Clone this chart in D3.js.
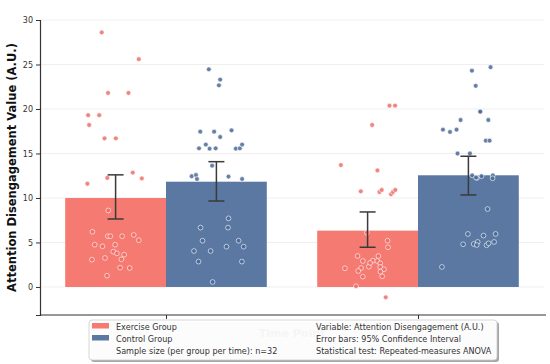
<!DOCTYPE html>
<html>
<head>
<meta charset="utf-8">
<script src="https://cdn.jsdelivr.net/npm/d3@7"></script>
<style>
  body { margin: 0; background: #fff; }
  svg text { font-family: "DejaVu Sans", sans-serif; }
</style>
</head>
<body>
<div id="chart"></div>
<script>
var timePoints = ["Pre", "Post"]
var groups = ["Exercise Group", "Control Group"]
var colors = ["#F47A72", "#5A78A2"]
var pointColors = ["#EE6E67", "#4A6A98"]

// bar means, [group][time]
var means = [[10.0, 6.33], [11.83, 12.55]]
// 95% CI [low, high]
var ciLow = [[7.64, 4.46], [9.66, 10.34]]
var ciHigh = [[12.6, 8.43], [14.08, 14.69]]

// individual points: [jitter (category units), value]
var exT1 = [[-0.055,28.6],[0.092,25.6],[-0.030,21.8],[0.051,21.8],[-0.109,19.3],[-0.065,19.3],[-0.105,18.2],[-0.044,16.7],[0.001,16.7],[-0.112,11.6],[-0.033,12.25],[0.068,12.85],[0.104,12.2],[-0.029,8.6],[-0.092,6.2],[-0.031,5.7],[-0.021,5.7],[0.026,5.7],[0.072,5.85],[0.092,5.25],[-0.083,4.75],[-0.052,4.57],[-0.002,4.75],[-0.009,3.97],[0.005,3.78],[0.034,3.63],[-0.042,3.26],[0.023,3.11],[-0.094,3.07],[0.018,2.17],[0.056,2.13],[-0.034,1.27]]
var ctT1 = [[-0.030,24.46],[0.015,23.3],[0.010,22.66],[-0.064,17.45],[-0.009,17.45],[0.060,17.6],[0.015,16.85],[-0.042,16.0],[-0.069,15.58],[-0.027,15.54],[-0.003,15.58],[0.077,15.54],[0.093,15.58],[0.102,16.0],[-0.017,13.63],[-0.098,12.44],[-0.081,12.58],[-0.077,12.13],[0.048,12.4],[0.102,12.13],[0.048,7.71],[-0.063,6.67],[0.046,6.67],[-0.055,5.2],[0.088,5.2],[0.040,4.53],[0.108,4.53],[-0.089,4.04],[-0.023,4.04],[-0.071,2.85],[0.101,2.85],[-0.015,0.56]]
var exT2 = [[0.087,20.37],[0.109,20.37],[0.018,18.2],[-0.106,13.7],[0.039,13.1],[-0.027,10.75],[0.047,10.67],[0.056,10.9],[0.093,10.42],[0.101,10.67],[0.110,10.9],[-0.003,6.1],[0.079,5.2],[0.081,4.46],[-0.040,3.48],[0.043,3.48],[-0.019,2.92],[0.021,2.96],[0.038,2.92],[0.050,2.66],[-0.090,2.1],[-0.026,2.13],[0.005,2.28],[0.050,2.25],[0.065,1.99],[-0.037,1.8],[0.051,1.72],[-0.019,1.16],[0.058,1.2],[-0.046,0.08],[0.072,-1.16],[0.010,2.7]]
var ctT2 = [[0.014,24.3],[0.088,24.7],[0.029,22.6],[0.047,19.7],[0.047,19.7],[0.079,18.76],[-0.031,18.76],[-0.101,17.68],[-0.073,17.42],[-0.047,17.68],[0.069,16.44],[0.084,16.44],[-0.043,15.0],[0.006,15.0],[0.015,12.55],[0.034,12.25],[0.052,12.45],[0.097,12.55],[0.096,12.21],[0.030,12.3],[0.076,8.76],[-0.002,5.96],[0.060,5.77],[0.108,5.96],[-0.021,4.8],[0.021,4.83],[0.037,5.06],[0.033,4.72],[0.072,4.69],[0.102,5.06],[0.080,4.9],[-0.105,2.25]]
var points = [[exT1, exT2], [ctT1, ctT2]]

var yTicks = [0, 5, 10, 15, 20, 25, 30]
var legendInfo = ["Variable: Attention Disengagement (A.U.)", "Error bars: 95% Confidence Interval", "Statistical test: Repeated-measures ANOVA"]
var sampleText = "Sample size (per group per time): n=32"

var width = 550, height = 364
var svg = d3.select("#chart").append("svg")
    .attr("width", width)
    .attr("height", height)

var x = d3.scaleLinear().domain([-0.5, 1.5]).range([40, 544])
var y = d3.scaleLinear().domain([-3.15, 30]).range([315, 20])
var barW = 0.4

// grid
svg.append("g").selectAll("line")
    .data(yTicks).enter().append("line")
    .attr("x1", x(-0.5)).attr("x2", x(1.5))
    .attr("y1", d => y(d)).attr("y2", d => y(d))
    .attr("stroke", "#ebebeb").attr("stroke-width", 0.8)

// bars
groups.forEach(function(g, gi) {
    svg.append("g").selectAll("rect")
        .data(timePoints).enter().append("rect")
        .attr("x", (d, ti) => x(ti - barW + gi * barW))
        .attr("width", x(barW) - x(0))
        .attr("y", (d, ti) => y(means[gi][ti]))
        .attr("height", (d, ti) => y(0) - y(means[gi][ti]))
        .attr("fill", colors[gi])
})

// points
groups.forEach(function(g, gi) {
    timePoints.forEach(function(t, ti) {
        var cx = ti - barW / 2 + gi * barW
        svg.append("g").selectAll("circle")
            .data(points[gi][ti]).enter().append("circle")
            .attr("cx", d => x(cx + d[0]))
            .attr("cy", d => y(d[1]))
            .attr("r", 2.4)
            .attr("fill", pointColors[gi])
            .attr("fill-opacity", 0.85)
            .attr("stroke", "#fff")
            .attr("stroke-width", 0.6)
    })
})

// error bars
groups.forEach(function(g, gi) {
    timePoints.forEach(function(t, ti) {
        var cx = x(ti - barW / 2 + gi * barW)
        var eg = svg.append("g").attr("stroke", "#3a3a3a").attr("stroke-width", 1.5)
        eg.append("line").attr("x1", cx).attr("x2", cx)
            .attr("y1", y(ciLow[gi][ti])).attr("y2", y(ciHigh[gi][ti]))
        ;[ciLow[gi][ti], ciHigh[gi][ti]].forEach(function(v) {
            eg.append("line").attr("x1", cx - 8).attr("x2", cx + 8)
                .attr("y1", y(v)).attr("y2", y(v))
        })
    })
})

// axes
var yAxis = svg.append("g")
    .attr("transform", "translate(" + x(-0.5) + ",0)")
    .call(d3.axisLeft(y).tickValues(yTicks).tickSize(4).tickPadding(3))
yAxis.select(".domain").attr("stroke", "#333").attr("stroke-width", 1.2)
yAxis.selectAll(".tick line").attr("stroke", "#333")
yAxis.selectAll(".tick text").attr("fill", "#333").style("font-size", "8px")

var xAxis = svg.append("g")
    .attr("transform", "translate(0," + y.range()[0] + ")")
    .call(d3.axisBottom(x).tickValues([0, 1]).tickSize(4).tickFormat(""))
xAxis.select(".domain").attr("stroke", "#333").attr("stroke-width", 1.2)
    .attr("d", "M" + x(-0.5) + ",0H" + (x(1.5) + 2))
xAxis.selectAll(".tick line").attr("stroke", "#333")

svg.append("text")
    .attr("transform", "translate(16," + ((y(30) + y(-3.15)) / 2) + ") rotate(-90)")
    .attr("text-anchor", "middle")
    .style("font-size", "11.5px")
    .style("font-weight", "bold")
    .attr("fill", "#111")
    .text("Attention Disengagement Value (A.U.)")

svg.append("text")
    .attr("x", (x(-0.5) + x(1.5)) / 2)
    .attr("y", 337)
    .attr("text-anchor", "middle")
    .style("font-size", "11px")
    .style("font-weight", "bold")
    .attr("fill", "#111")
    .text("Time Point")

// legend
var lg = svg.append("g").attr("transform", "translate(89,320)")
lg.append("rect")
    .attr("x", 2).attr("y", 2).attr("width", 408).attr("height", 40)
    .attr("rx", 3).attr("fill", "#000").attr("fill-opacity", 0.35)
lg.append("rect")
    .attr("width", 408).attr("height", 40)
    .attr("rx", 3).attr("fill", "#fff").attr("fill-opacity", 0.96)
    .attr("stroke", "#ccc").attr("stroke-width", 0.8)

groups.forEach(function(g, gi) {
    lg.append("rect")
        .attr("x", 3).attr("y", 3 + gi * 12)
        .attr("width", 17).attr("height", 5.5)
        .attr("fill", colors[gi])
    lg.append("text")
        .attr("x", 27).attr("y", 9.5 + gi * 12)
        .style("font-size", "8.1px").attr("fill", "#333")
        .text(g)
})
lg.append("text")
    .attr("x", 27).attr("y", 33.5)
    .style("font-size", "8.1px").attr("fill", "#333")
    .text(sampleText)
legendInfo.forEach(function(t, i) {
    lg.append("text")
        .attr("x", 227).attr("y", 9.5 + i * 12)
        .style("font-size", "8.1px").attr("fill", "#333")
        .text(t)
})
</script>
</body>
</html>
